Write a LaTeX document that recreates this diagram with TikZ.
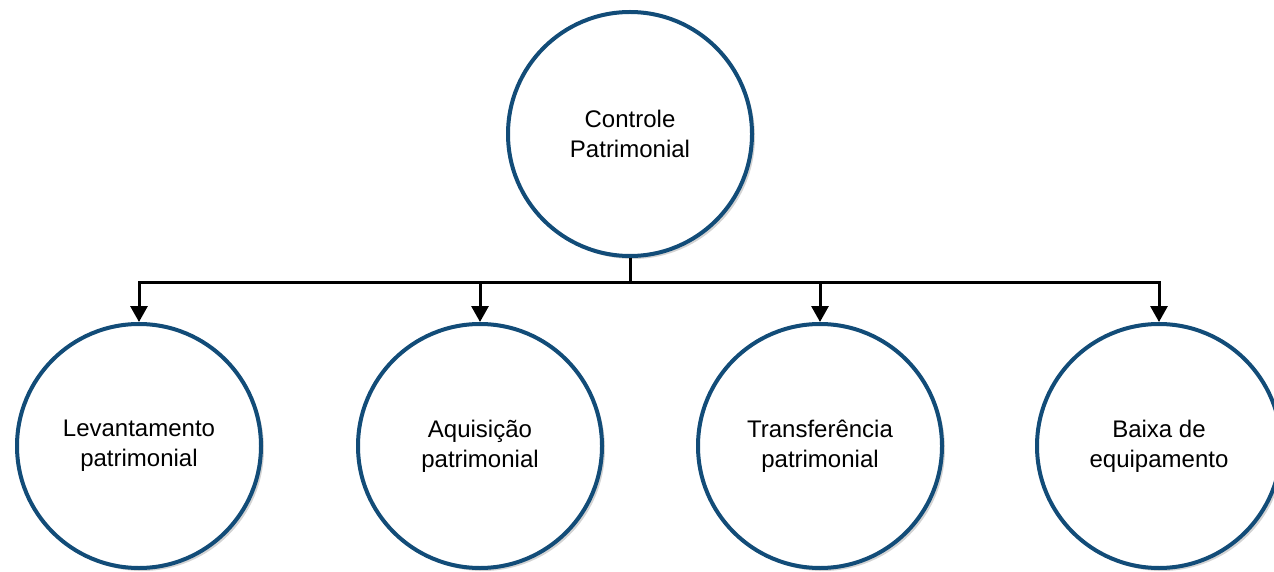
\documentclass[tikz,border=0pt]{standalone}
\usepackage{fontspec}
\setmainfont{Liberation Sans}
\usepackage{tikz}
\usetikzlibrary{arrows.meta,shadows}

\definecolor{ringblue}{RGB}{18,76,120}

\tikzset{
  ring/.style={circle,draw=ringblue,line width=2pt,fill=white,
    minimum size=122pt,inner sep=0pt,align=center,
    font=\fontsize{12}{15}\selectfont,
    drop shadow={shadow xshift=1.5pt,shadow yshift=-1.5pt,opacity=0.35}},
  conn/.style={line width=1.5pt,-{Triangle[length=8pt,width=8.5pt]}}
}

\begin{document}
\begin{tikzpicture}[x=0.5pt,y=-0.5pt]
  \useasboundingbox (0,0) rectangle (1274,572);
  \node[ring] (root) at (630,134) {Controle\\Patrimonial};
  \foreach \i/\x/\txt in {1/139/Levantamento\\patrimonial,
                          2/480/Aquisição\\patrimonial,
                          3/820/Transferência\\patrimonial,
                          4/1159/Baixa de\\equipamento} {
    \node[ring] (n\i) at (\x,446) {\txt};
  }
  \coordinate (bus) at (630,283);
  \foreach \i in {1,...,4}
    \draw[conn] (root.south) -- (bus) -| (n\i.north);
\end{tikzpicture}
\end{document}
